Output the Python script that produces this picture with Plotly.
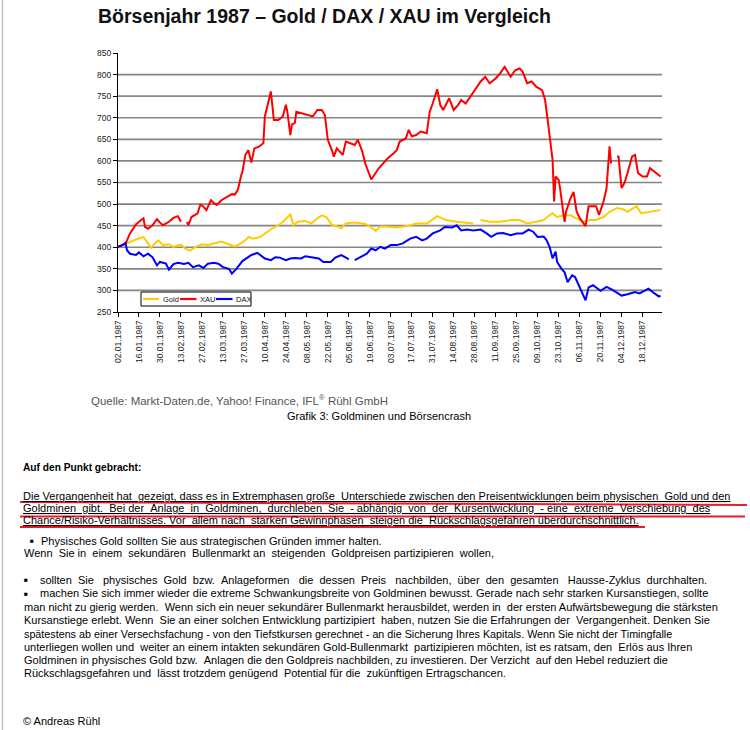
import plotly.graph_objects as go

# ---------------- data (index 400 = 02.01.1987) ----------------
gold_dates = ["1987-01-02","1987-01-06","1987-01-10","1987-01-15","1987-01-19","1987-01-21","1987-01-24",
              "1987-01-27","1987-01-29","1987-02-01","1987-02-05","1987-02-08","1987-02-13","1987-02-16",
              "1987-02-19","1987-02-23","1987-02-27","1987-03-03","1987-03-07","1987-03-12","1987-03-17",
              "1987-03-21","1987-03-25","1987-03-28","1987-03-30","1987-04-02","1987-04-07","1987-04-10",
              "1987-04-15","1987-04-19","1987-04-22","1987-04-26","1987-04-27","1987-04-29","1987-05-02",
              "1987-05-07","1987-05-11","1987-05-15","1987-05-18","1987-05-21","1987-05-25","1987-05-28",
              "1987-05-31","1987-06-03","1987-06-07","1987-06-11","1987-06-16","1987-06-19","1987-06-23",
              "1987-06-26","1987-06-30","1987-07-07","1987-07-14","1987-07-20","1987-07-27","1987-08-03",
              "1987-08-09","1987-08-16","1987-08-23","1987-08-27","1987-08-29","1987-09-01","1987-09-07",
              "1987-09-14","1987-09-21","1987-09-27","1987-10-02","1987-10-08","1987-10-13","1987-10-17",
              "1987-10-19","1987-10-22","1987-10-26","1987-10-31","1987-11-04","1987-11-08","1987-11-13",
              "1987-11-17","1987-11-22","1987-11-26","1987-12-01","1987-12-05","1987-12-08","1987-12-12",
              "1987-12-14","1987-12-17","1987-12-23","1987-12-30"]
gold_values = [401,407,413,419,424,413,399,
               410,416,405,407,401,406,397,
               392,401,407,405,409,413,407,
               402,409,416,424,420,424,432,
               444,451,459,473,477,451,459,
               461,455,467,474,470,451,449,
               444,455,457,457,454,448,438,
               448,448,446,449,455,455,472,
               463,459,457,455,None,463,459,
               459,463,463,455,459,463,474,
               479,470,474,474,467,459,463,
               463,470,482,491,488,482,491,
               495,479,482,486]

xau_dates = ["1987-01-02","1987-01-07","1987-01-10","1987-01-14","1987-01-16","1987-01-19","1987-01-20",
             "1987-01-22","1987-01-25","1987-01-28","1987-01-30","1987-02-01","1987-02-05","1987-02-08",
             "1987-02-11","1987-02-13","1987-02-14","1987-02-17","1987-02-18","1987-02-20","1987-02-24",
             "1987-02-26","1987-02-28","1987-03-02","1987-03-05","1987-03-07","1987-03-09","1987-03-12",
             "1987-03-16","1987-03-19","1987-03-21","1987-03-23","1987-03-25","1987-03-26","1987-03-28",
             "1987-03-30","1987-04-01","1987-04-03","1987-04-06","1987-04-09","1987-04-10","1987-04-12",
             "1987-04-14","1987-04-16","1987-04-19","1987-04-22","1987-04-24","1987-04-25","1987-04-27",
             "1987-04-28","1987-04-30","1987-05-01","1987-05-05","1987-05-08","1987-05-12","1987-05-15",
             "1987-05-18","1987-05-20","1987-05-22","1987-05-25","1987-05-26","1987-05-28","1987-05-30",
             "1987-06-01","1987-06-03","1987-06-06","1987-06-09","1987-06-11","1987-06-14","1987-06-16",
             "1987-06-20","1987-06-25","1987-06-28","1987-07-01","1987-07-05","1987-07-07","1987-07-09",
             "1987-07-13","1987-07-15","1987-07-17","1987-07-20","1987-07-23","1987-07-27","1987-07-29",
             "1987-07-31","1987-08-03","1987-08-05","1987-08-07","1987-08-11","1987-08-14","1987-08-17",
             "1987-08-19","1987-08-22","1987-08-25","1987-08-28","1987-09-01","1987-09-04","1987-09-07",
             "1987-09-11","1987-09-14","1987-09-17","1987-09-21","1987-09-24","1987-09-27","1987-09-29",
             "1987-10-02","1987-10-05","1987-10-08","1987-10-12","1987-10-14","1987-10-16","1987-10-18",
             "1987-10-19","1987-10-20","1987-10-21","1987-10-23","1987-10-24","1987-10-26","1987-10-27",
             "1987-10-28","1987-10-31","1987-11-02","1987-11-04","1987-11-06","1987-11-10","1987-11-12",
             "1987-11-14","1987-11-17","1987-11-19","1987-11-22","1987-11-24","1987-11-26","1987-11-27",
             "1987-11-29","1987-12-01","1987-12-02","1987-12-04","1987-12-06","1987-12-08","1987-12-11",
             "1987-12-13","1987-12-15","1987-12-18","1987-12-21","1987-12-23","1987-12-26","1987-12-30"]
xau_values = [401,408,432,453,459,467,447,
              443,451,465,457,451,459,468,
              472,459,None,459,451,470,478,
              499,494,486,509,502,498,509,
              517,523,522,533,564,575,614,
              625,596,629,633,641,703,730,
              761,695,695,703,730,714,660,
              684,688,714,710,707,703,718,
              718,707,649,622,610,629,622,
              614,645,641,637,649,622,594,
              557,583,595,606,618,625,645,
              652,672,657,660,668,664,714,
              733,766,730,718,745,718,730,
              741,733,749,764,784,795,780,
              791,803,818,795,810,814,807,
              780,784,772,764,741,687,633,
              602,506,564,556,537,483,459,
              483,514,528,483,468,449,495,
              495,495,475,506,537,634,594,
              None,610,610,537,549,572,610,
              614,572,564,564,583,575,564]

dax_dates = ["1987-01-02","1987-01-05","1987-01-07","1987-01-08","1987-01-10","1987-01-14","1987-01-16",
             "1987-01-19","1987-01-22","1987-01-25","1987-01-28","1987-01-30","1987-02-03","1987-02-05",
             "1987-02-08","1987-02-11","1987-02-15","1987-02-18","1987-02-21","1987-02-25","1987-02-28",
             "1987-03-03","1987-03-07","1987-03-10","1987-03-13","1987-03-17","1987-03-19","1987-03-22",
             "1987-03-26","1987-03-29","1987-04-01","1987-04-05","1987-04-07","1987-04-10","1987-04-14",
             "1987-04-17","1987-04-20","1987-04-24","1987-04-27","1987-04-30","1987-05-04","1987-05-07",
             "1987-05-11","1987-05-16","1987-05-19","1987-05-24","1987-05-27","1987-05-31","1987-06-04",
             "1987-06-05","1987-06-07","1987-06-09","1987-06-13","1987-06-17","1987-06-20","1987-06-23",
             "1987-06-26","1987-06-29","1987-07-03","1987-07-07","1987-07-11","1987-07-16","1987-07-20",
             "1987-07-24","1987-07-27","1987-07-31","1987-08-05","1987-08-08","1987-08-13","1987-08-16",
             "1987-08-19","1987-08-23","1987-08-27","1987-09-01","1987-09-05","1987-09-08","1987-09-12",
             "1987-09-16","1987-09-21","1987-09-25","1987-09-29","1987-10-03","1987-10-06","1987-10-09",
             "1987-10-13","1987-10-15","1987-10-17","1987-10-19","1987-10-21","1987-10-22","1987-10-25",
             "1987-10-27","1987-10-29","1987-11-01","1987-11-03","1987-11-06","1987-11-10","1987-11-12",
             "1987-11-15","1987-11-20","1987-11-24","1987-11-28","1987-12-04","1987-12-08","1987-12-13",
             "1987-12-16","1987-12-22","1987-12-26","1987-12-29","1987-12-30"]
dax_values = [401,405,410,393,385,382,388,
              379,385,377,358,366,362,348,
              361,364,361,364,354,358,352,
              362,364,362,354,350,339,350,
              368,374,382,387,382,374,370,
              377,376,370,374,375,374,379,
              377,374,366,366,376,382,374,
              372,None,370,377,385,397,393,
              401,397,405,405,409,420,424,
              416,420,432,439,447,446,451,
              439,441,439,441,432,424,432,
              433,428,432,432,441,436,424,
              425,416,401,374,390,366,350,
              342,319,335,331,307,277,307,
              312,299,308,301,288,291,296,
              293,304,293,286,288]

tick_dates = ["1987-01-02","1987-01-16","1987-01-30","1987-02-13","1987-02-27","1987-03-13","1987-03-27",
              "1987-04-10","1987-04-24","1987-05-08","1987-05-22","1987-06-05","1987-06-19","1987-07-03",
              "1987-07-17","1987-07-31","1987-08-14","1987-08-28","1987-09-11","1987-09-25","1987-10-09",
              "1987-10-23","1987-11-06","1987-11-20","1987-12-04","1987-12-18"]
tick_labels = ["02.01.1987","16.01.1987","30.01.1987","13.02.1987","27.02.1987","13.03.1987","27.03.1987",
               "10.04.1987","24.04.1987","08.05.1987","22.05.1987","05.06.1987","19.06.1987","03.07.1987",
               "17.07.1987","31.07.1987","14.08.1987","28.08.1987","11.09.1987","25.09.1987","09.10.1987",
               "23.10.1987","06.11.1987","20.11.1987","04.12.1987","18.12.1987"]
y_ticks = [250, 300, 350, 400, 450, 500, 550, 600, 650, 700, 750, 800, 850]
grid_values = [300, 350, 400, 450, 500, 550, 600, 650, 700, 750, 800]

series_names = ["Gold", "XAU", "DAX"]
series_colors = ["#FFCC00", "#FF0000", "#0000FF"]

# ---------------- layout geometry (pixels) ----------------
W, H = 750, 730
ML, MR, MT, MB = 118, 88, 53, 418
FONT = "Liberation Sans, Arial, sans-serif"
NB = "\u00a0"


def fx(x):
    return (x - ML) / (W - ML - MR)


def fy(y):
    return (H - MB - y) / (H - MT - MB)


def spread(s, n):
    """justify a line by adding n non-breaking spaces spread over its gaps"""
    words = s.split(" ")
    gaps = len(words) - 1
    out = words[0]
    for i in range(gaps):
        k = round((i + 1) * n / gaps) - round(i * n / gaps)
        out += " " + NB * k + words[i + 1]
    return out


fig = go.Figure()
for name, d, v, c in zip(series_names, [gold_dates, xau_dates, dax_dates],
                         [gold_values, xau_values, dax_values], series_colors):
    fig.add_trace(go.Scatter(x=d, y=v, mode="lines", name=name, connectgaps=False,
                             line=dict(color=c, width=2), showlegend=False))

shapes = []
for g in grid_values:
    shapes.append(dict(type="line", xref="paper", yref="y", x0=0, x1=1, y0=g, y1=g,
                       line=dict(color="#858585", width=1.6), layer="below"))

# manual legend (small Excel-style box)
shapes.append(dict(type="rect", xref="paper", yref="paper", x0=fx(141), x1=fx(251),
                   y0=fy(292), y1=fy(306), line=dict(color="#000000", width=1),
                   fillcolor="white", layer="above"))
leg_lines = [(143, 159), (180, 196.5), (216, 232.5)]
leg_text_x = [160.5, 197.5, 233.5]
for (a, b), c in zip(leg_lines, series_colors):
    shapes.append(dict(type="line", xref="paper", yref="paper", x0=fx(a), x1=fx(b),
                       y0=fy(299), y1=fy(299), line=dict(color=c, width=2.2), layer="above"))

# left page border
shapes.append(dict(type="line", xref="paper", yref="paper", x0=fx(2.5), x1=fx(2.5),
                   y0=fy(0), y1=fy(730), line=dict(color="#c4c4c4", width=1.5)))

# red marker lines
red = "#EC1C2A"
for (x0, y0, x1, y1) in [(20, 502, 747, 505), (20, 516.5, 745, 516.5), (20, 527, 645, 527)]:
    shapes.append(dict(type="line", xref="paper", yref="paper", x0=fx(x0), x1=fx(x1),
                       y0=fy(y0), y1=fy(y1), line=dict(color=red, width=2)))

annotations = []


def text(x, y, s, size, color="#000000", anchor="left"):
    annotations.append(dict(xref="paper", yref="paper", x=fx(x), y=fy(y), text=s,
                            showarrow=False, xanchor=anchor, yanchor="middle",
                            font=dict(family=FONT, size=size, color=color)))


for name, tx in zip(series_names, leg_text_x):
    text(tx, 299.5, name, 7.5, "#111111")

text(96, 16, "<b>Börsenjahr 1987 – Gold / DAX / XAU im Vergleich</b>", 19.5, "#111111")
text(89, 400, "Quelle: Markt-Daten.de, Yahoo! Finance, IFL<sup>®</sup> Rühl GmbH", 11.5, "#555555")
text(379, 415.5, "Grafik 3: Goldminen und Börsencrash", 11, "#000000", "center")
text(21, 467.5, "<b>Auf den Punkt gebracht:</b>", 10.2)

FS = 11
para = [
    (21, 496, "Die Vergangenheit hat gezeigt, dass es in Extremphasen große Unterschiede zwischen den "
              "Preisentwicklungen beim physischen Gold und den", 3),
    (21, 508, "Goldminen gibt. Bei der Anlage in Goldminen, durchleben Sie - abhängig von der "
              "Kursentwicklung - eine extreme Verschiebung des", 15),
    (21, 520, "Chance/Risiko-Verhältnisses. Vor allem nach starken Gewinnphasen steigen die "
              "Rückschlagsgefahren überdurchschnittlich.", 4),
]
for x, y, s, n in para:
    text(x, y, "<u>" + spread(s, n) + "</u>", FS)

# bullets (small squares)
for bx, by in [(28, 540.5), (22, 580), (22, 593)]:
    text(bx, by, "■", 6.5)

body = [
    (38.5, 540.5, "Physisches Gold sollten Sie aus strategischen Gründen immer halten.", 0, FS),
    (22, 553, "Wenn Sie in einem sekundären Bullenmarkt an steigenden Goldpreisen partizipieren wollen,", 7, FS),
    (38, 580, "sollten Sie physisches Gold bzw. Anlageformen die dessen Preis nachbilden, über den "
              "gesamten Hausse-Zyklus durchhalten.", 18, FS),
    (38, 593, "machen Sie sich immer wieder die extreme Schwankungsbreite von Goldminen bewusst. "
              "Gerade nach sehr starken Kursanstiegen, sollte", 0, FS),
    (22, 606.5, "man nicht zu gierig werden. Wenn sich ein neuer sekundärer Bullenmarkt herausbildet, "
                "werden in der ersten Aufwärtsbewegung die stärksten", 2, FS),
    (22, 620, "Kursanstiege erlebt. Wenn Sie an einer solchen Entwicklung partizipiert haben, nutzen Sie "
              "die Erfahrungen der Vergangenheit. Denken Sie", 3, FS),
    (22, 633.5, "spätestens ab einer Versechsfachung - von den Tiefstkursen gerechnet - an die Sicherung "
                "Ihres Kapitals. Wenn Sie nicht der Timingfalle", 0, 10.75),
    (22, 646.5, "unterliegen wollen und weiter an einem intakten sekundären Gold-Bullenmarkt partizipieren "
                "möchten, ist es ratsam, den Erlös aus Ihren", 3, FS),
    (22, 660, "Goldminen in physisches Gold bzw. Anlagen die den Goldpreis nachbilden, zu investieren. "
              "Der Verzicht auf den Hebel reduziert die", 2, FS),
    (22, 673, "Rückschlagsgefahren und lässt trotzdem genügend Potential für die zukünftigen Ertragschancen.", 3, FS),
    (21, 720.5, "© Andreas Rühl", 0, FS),
]
for x, y, s, n, fs in body:
    text(x, y, spread(s, n), fs)

fig.update_layout(
    width=W, height=H, autosize=False,
    margin=dict(l=ML, r=MR, t=MT, b=MB, pad=0),
    paper_bgcolor="white", plot_bgcolor="white",
    font=dict(family=FONT, color="#222222"),
    shapes=shapes, annotations=annotations, showlegend=False,
    xaxis=dict(type="date", range=["1987-01-02", "1987-12-31"], tickmode="array",
               tickvals=tick_dates, ticktext=tick_labels, tickangle=-90,
               tickfont=dict(size=8.5, color="#222222", family=FONT),
               ticks="outside", ticklen=4, tickcolor="#000000", showline=True,
               linecolor="#000000", linewidth=1, showgrid=False, zeroline=False, fixedrange=True),
    yaxis=dict(range=[250, 850], tickmode="array", tickvals=y_ticks,
               tickfont=dict(size=8.5, color="#222222", family=FONT),
               ticks="outside", ticklen=4, tickcolor="#000000", showline=True,
               linecolor="#000000", linewidth=1, showgrid=False, zeroline=False, fixedrange=True),
)

fig.write_html("out.html", config={"displayModeBar": False},
               post_script="document.body.style.margin='0';document.body.style.padding='0';")
